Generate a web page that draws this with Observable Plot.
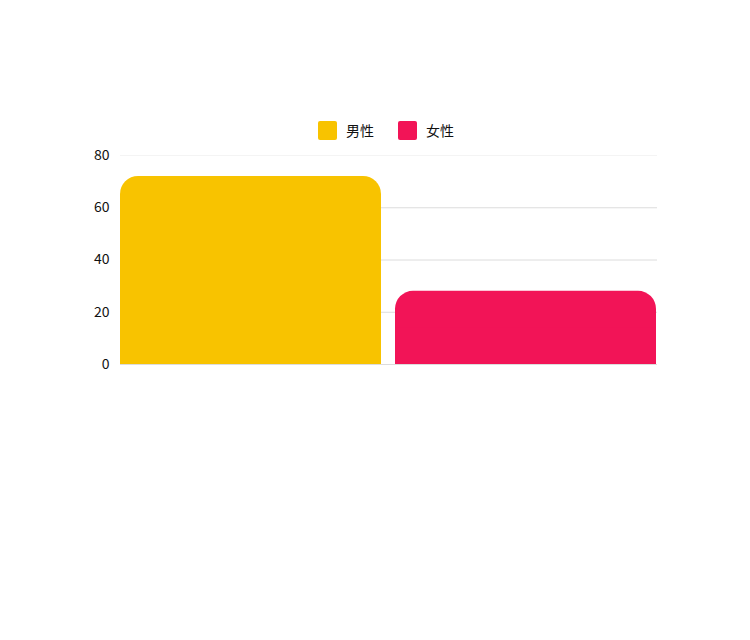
<!DOCTYPE html>
<html><head><meta charset="utf-8">
<script src="https://cdn.jsdelivr.net/npm/d3@7"></script>
<script src="https://cdn.jsdelivr.net/npm/@observablehq/plot@0.6"></script>
<style>
body{margin:0;background:#fff;font-family:"Noto Sans CJK SC","Noto Sans",sans-serif;}
#legend{position:absolute;top:120px;left:0;width:750px;height:20px;display:flex;justify-content:center;padding-left:22px;box-sizing:border-box;font-size:14px;color:#111;}
.item{display:flex;align-items:center;margin:0 12px;}
.sw{width:19px;height:19px;border-radius:2px;margin-right:9px;}
#chart{position:absolute;top:140px;left:0;}
</style></head><body>
<div id="legend"></div>
<div id="chart"></div>
<script>
const categories = ["男性", "女性"];
const values = [72, 28];
const colors = ["#F8C300", "#F21457"];
const yTicks = [0, 20, 40, 60, 80];

const data = categories.map((c, i) => ({category: c, value: values[i]}));

const legend = document.getElementById("legend");
categories.forEach((c, i) => {
  const it = document.createElement("div"); it.className = "item";
  const sw = document.createElement("div"); sw.className = "sw"; sw.style.background = colors[i];
  const t = document.createElement("span"); t.textContent = c;
  it.appendChild(sw); it.appendChild(t); legend.appendChild(it);
});

const chart = Plot.plot({
  width: 750,
  height: 260,
  marginTop: 15,
  marginBottom: 36,
  marginLeft: 120,
  marginRight: 93,
  style: {fontFamily: '"Noto Sans CJK SC","Noto Sans",sans-serif', fontSize: "14px", color: "#111", background: "#fff"},
  x: {domain: categories, paddingInner: 0.05, paddingOuter: 0, axis: null},
  y: {domain: [0, 80], ticks: yTicks},
  color: {domain: categories, range: colors},
  marks: [
    Plot.ruleY(yTicks.filter(d => d > 0 && d < 80), {stroke: "#dcdcdc", strokeWidth: 1}),
    Plot.ruleY([80], {stroke: "#f4f4f4", strokeWidth: 1}),
    Plot.axisY({ticks: yTicks, tickSize: 0, tickPadding: 11, label: null, fontSize: 14}),
    Plot.barY(data, {x: "category", y: "value", fill: "category", rx: 18}),
    Plot.barY(data, {x: "category", y1: 0, y2: d => d.value / 2, fill: "category"}),
    Plot.ruleY([0], {stroke: "#dcdcdc", strokeWidth: 1})
  ]
});
document.getElementById("chart").appendChild(chart);
</script>
</body></html>
